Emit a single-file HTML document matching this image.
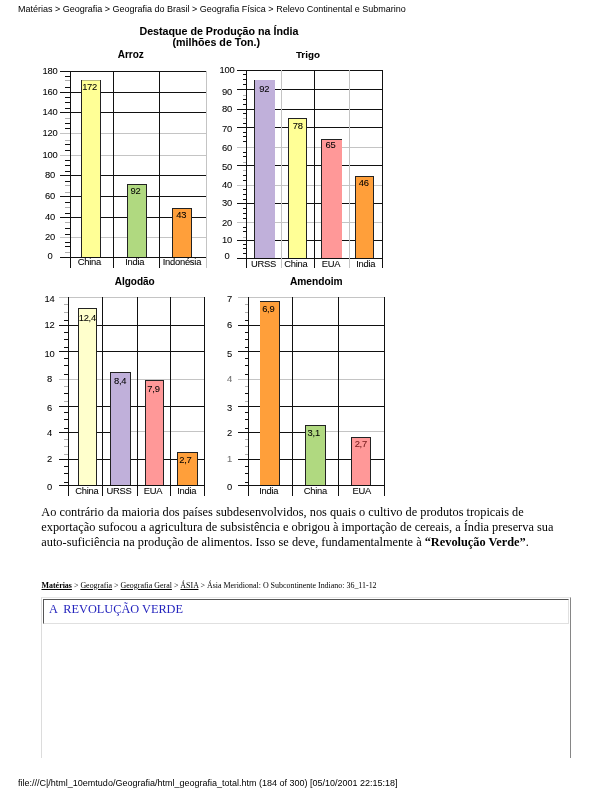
<!DOCTYPE html>
<html><head><meta charset="utf-8">
<style>
html,body{margin:0;padding:0;background:#fff;}
body{width:612px;height:792px;position:relative;overflow:hidden;will-change:transform;font-family:"Liberation Sans",sans-serif;color:#000;}
.a{position:absolute;white-space:nowrap;line-height:1;}
.hdr{font-size:9px;left:18px;top:4.6px;}
.ftr{font-size:9px;left:18px;top:779px;}
.p{position:absolute;left:41.3px;top:505.2px;width:560px;font-family:"Liberation Serif",serif;font-size:12.33px;line-height:15px;white-space:nowrap;}
.bc{font-family:"Liberation Serif",serif;font-size:7.95px;left:41.5px;top:581.7px;}
.box{position:absolute;left:41px;top:597px;width:530px;height:161px;border-left:1px solid #dcdcdc;border-top:1px solid #e6e6e6;border-right:1px solid #868686;box-sizing:border-box;}
.cell{position:absolute;left:1px;top:1px;width:526px;height:25px;border-top:1px solid #555;border-left:1px solid #555;border-right:1px solid #e0e0e0;border-bottom:1px solid #e0e0e0;box-sizing:border-box;}
.cell span{position:absolute;left:5px;top:3.3px;font-family:"Liberation Serif",serif;font-size:12.3px;color:#2424bd;line-height:1;white-space:pre;}
svg{position:absolute;left:0;top:0;}
svg text{font-family:"Liberation Sans",sans-serif;stroke:#000;stroke-width:0.06px;}
</style></head><body>
<div class="a hdr">Matérias &gt; Geografia &gt; Geografia do Brasil &gt; Geografia Física &gt; Relevo Continental e Submarino</div>

<svg width="612" height="500" viewBox="0 0 612 500">
<text x="218.9" y="34.7" font-size="10.68" text-anchor="middle" font-weight="bold" fill="#000">Destaque de Produção na Índia</text>
<text x="216.3" y="46.2" font-size="10.7" text-anchor="middle" font-weight="bold" fill="#000">(milhões de Ton.)</text>
<text x="130.75" y="57.8" font-size="10" text-anchor="middle" font-weight="bold" fill="#000">Arroz</text>
<text x="307.9" y="57.5" font-size="9.8" text-anchor="middle" font-weight="bold" fill="#000">Trigo</text>
<text x="134.7" y="285" font-size="10" text-anchor="middle" font-weight="bold" fill="#000">Algodão</text>
<text x="316.2" y="285" font-size="10.2" text-anchor="middle" font-weight="bold" fill="#000">Amendoim</text>
<rect x="60" y="71" width="147" height="1" fill="#111" shape-rendering="crispEdges"/>
<rect x="60" y="92" width="147" height="1" fill="#111" shape-rendering="crispEdges"/>
<rect x="60" y="112" width="147" height="1" fill="#111" shape-rendering="crispEdges"/>
<rect x="60" y="133" width="147" height="1" fill="#c4c4c4" shape-rendering="crispEdges"/>
<rect x="60" y="155" width="147" height="1" fill="#c4c4c4" shape-rendering="crispEdges"/>
<rect x="60" y="175" width="147" height="1" fill="#111" shape-rendering="crispEdges"/>
<rect x="60" y="196" width="147" height="1" fill="#111" shape-rendering="crispEdges"/>
<rect x="60" y="217" width="147" height="1" fill="#111" shape-rendering="crispEdges"/>
<rect x="60" y="237" width="147" height="1" fill="#c4c4c4" shape-rendering="crispEdges"/>
<rect x="60" y="257" width="147" height="1" fill="#111" shape-rendering="crispEdges"/>
<rect x="65" y="76" width="5" height="1" fill="#111" shape-rendering="crispEdges"/>
<rect x="65" y="80" width="5" height="1" fill="#b0b0b0" shape-rendering="crispEdges"/>
<rect x="65" y="87" width="5" height="1" fill="#111" shape-rendering="crispEdges"/>
<rect x="65" y="97" width="5" height="1" fill="#111" shape-rendering="crispEdges"/>
<rect x="65" y="102" width="5" height="1" fill="#111" shape-rendering="crispEdges"/>
<rect x="65" y="108" width="5" height="1" fill="#111" shape-rendering="crispEdges"/>
<rect x="65" y="118" width="5" height="1" fill="#b0b0b0" shape-rendering="crispEdges"/>
<rect x="65" y="123" width="5" height="1" fill="#111" shape-rendering="crispEdges"/>
<rect x="65" y="128" width="5" height="1" fill="#111" shape-rendering="crispEdges"/>
<rect x="65" y="140" width="5" height="1" fill="#b0b0b0" shape-rendering="crispEdges"/>
<rect x="65" y="144" width="5" height="1" fill="#111" shape-rendering="crispEdges"/>
<rect x="65" y="150" width="5" height="1" fill="#111" shape-rendering="crispEdges"/>
<rect x="65" y="160" width="5" height="1" fill="#111" shape-rendering="crispEdges"/>
<rect x="65" y="165" width="5" height="1" fill="#111" shape-rendering="crispEdges"/>
<rect x="65" y="171" width="5" height="1" fill="#111" shape-rendering="crispEdges"/>
<rect x="65" y="181" width="5" height="1" fill="#111" shape-rendering="crispEdges"/>
<rect x="65" y="185" width="5" height="1" fill="#b0b0b0" shape-rendering="crispEdges"/>
<rect x="65" y="192" width="5" height="1" fill="#b0b0b0" shape-rendering="crispEdges"/>
<rect x="65" y="202" width="5" height="1" fill="#111" shape-rendering="crispEdges"/>
<rect x="65" y="207" width="5" height="1" fill="#b0b0b0" shape-rendering="crispEdges"/>
<rect x="65" y="213" width="5" height="1" fill="#111" shape-rendering="crispEdges"/>
<rect x="65" y="222" width="5" height="1" fill="#b0b0b0" shape-rendering="crispEdges"/>
<rect x="65" y="228" width="5" height="1" fill="#111" shape-rendering="crispEdges"/>
<rect x="65" y="234" width="5" height="1" fill="#111" shape-rendering="crispEdges"/>
<rect x="65" y="242" width="5" height="1" fill="#111" shape-rendering="crispEdges"/>
<rect x="65" y="246" width="5" height="1" fill="#111" shape-rendering="crispEdges"/>
<rect x="65" y="252" width="5" height="1" fill="#b0b0b0" shape-rendering="crispEdges"/>
<rect x="70" y="71" width="1" height="197" fill="#111" shape-rendering="crispEdges"/>
<rect x="113" y="71" width="1" height="197" fill="#111" shape-rendering="crispEdges"/>
<rect x="159" y="71" width="1" height="197" fill="#111" shape-rendering="crispEdges"/>
<rect x="206" y="71" width="1" height="197" fill="#c4c4c4" shape-rendering="crispEdges"/>
<rect x="81" y="80" width="20" height="177" fill="#ffff96" shape-rendering="crispEdges"/>
<rect x="81" y="80" width="1" height="177" fill="#222" shape-rendering="crispEdges"/>
<rect x="100" y="80" width="1" height="177" fill="#222" shape-rendering="crispEdges"/>
<rect x="82" y="80" width="18" height="1" fill="#b9b97c" shape-rendering="crispEdges"/>
<text x="89.6" y="90" font-size="9.4" text-anchor="middle" font-weight="normal" fill="#000" letter-spacing="-0.25">172</text>
<rect x="127" y="184" width="20" height="73" fill="#b0d980" shape-rendering="crispEdges"/>
<rect x="127" y="184" width="1" height="73" fill="#222" shape-rendering="crispEdges"/>
<rect x="146" y="184" width="1" height="73" fill="#222" shape-rendering="crispEdges"/>
<rect x="127" y="184" width="20" height="1" fill="#222" shape-rendering="crispEdges"/>
<text x="135.5" y="193.7" font-size="9.4" text-anchor="middle" font-weight="normal" fill="#000" letter-spacing="-0.25">92</text>
<rect x="172" y="208" width="20" height="49" fill="#ff9f3a" shape-rendering="crispEdges"/>
<rect x="172" y="208" width="1" height="49" fill="#222" shape-rendering="crispEdges"/>
<rect x="191" y="208" width="1" height="49" fill="#222" shape-rendering="crispEdges"/>
<rect x="172" y="208" width="20" height="1" fill="#222" shape-rendering="crispEdges"/>
<text x="181.3" y="217.5" font-size="9.4" text-anchor="middle" font-weight="normal" fill="#000" letter-spacing="-0.25">43</text>
<text x="50" y="73.9" font-size="9.4" text-anchor="middle" font-weight="normal" fill="#000" letter-spacing="-0.25">180</text>
<text x="50" y="94.9" font-size="9.4" text-anchor="middle" font-weight="normal" fill="#000" letter-spacing="-0.25">160</text>
<text x="50" y="114.9" font-size="9.4" text-anchor="middle" font-weight="normal" fill="#000" letter-spacing="-0.25">140</text>
<text x="50" y="135.9" font-size="9.4" text-anchor="middle" font-weight="normal" fill="#000" letter-spacing="-0.25">120</text>
<text x="50" y="157.9" font-size="9.4" text-anchor="middle" font-weight="normal" fill="#000" letter-spacing="-0.25">100</text>
<text x="50" y="177.9" font-size="9.4" text-anchor="middle" font-weight="normal" fill="#000" letter-spacing="-0.25">80</text>
<text x="50" y="198.9" font-size="9.4" text-anchor="middle" font-weight="normal" fill="#000" letter-spacing="-0.25">60</text>
<text x="50" y="219.9" font-size="9.4" text-anchor="middle" font-weight="normal" fill="#000" letter-spacing="-0.25">40</text>
<text x="50" y="239.9" font-size="9.4" text-anchor="middle" font-weight="normal" fill="#000" letter-spacing="-0.25">20</text>
<text x="50" y="258.8" font-size="9.4" text-anchor="middle" font-weight="normal" fill="#000" letter-spacing="-0.25">0</text>
<text x="89.4" y="265.3" font-size="9.4" text-anchor="middle" font-weight="normal" fill="#000" letter-spacing="-0.25">China</text>
<text x="134.8" y="265.3" font-size="9.4" text-anchor="middle" font-weight="normal" fill="#000" letter-spacing="-0.25">India</text>
<text x="181.9" y="265.3" font-size="9.4" text-anchor="middle" font-weight="normal" fill="#000" letter-spacing="-0.25">Indonésia</text>
<rect x="237" y="70" width="146" height="1" fill="#111" shape-rendering="crispEdges"/>
<rect x="237" y="89" width="146" height="1" fill="#111" shape-rendering="crispEdges"/>
<rect x="237" y="109" width="146" height="1" fill="#111" shape-rendering="crispEdges"/>
<rect x="237" y="127" width="146" height="1" fill="#111" shape-rendering="crispEdges"/>
<rect x="237" y="147" width="146" height="1" fill="#c4c4c4" shape-rendering="crispEdges"/>
<rect x="237" y="165" width="146" height="1" fill="#111" shape-rendering="crispEdges"/>
<rect x="237" y="185" width="146" height="1" fill="#c4c4c4" shape-rendering="crispEdges"/>
<rect x="237" y="203" width="146" height="1" fill="#111" shape-rendering="crispEdges"/>
<rect x="237" y="222" width="146" height="1" fill="#c4c4c4" shape-rendering="crispEdges"/>
<rect x="237" y="240" width="146" height="1" fill="#111" shape-rendering="crispEdges"/>
<rect x="237" y="258" width="146" height="1" fill="#111" shape-rendering="crispEdges"/>
<rect x="243" y="74" width="3" height="1" fill="#111" shape-rendering="crispEdges"/>
<rect x="243" y="79" width="3" height="1" fill="#111" shape-rendering="crispEdges"/>
<rect x="243" y="84" width="3" height="1" fill="#111" shape-rendering="crispEdges"/>
<rect x="243" y="95" width="3" height="1" fill="#b0b0b0" shape-rendering="crispEdges"/>
<rect x="243" y="99" width="3" height="1" fill="#111" shape-rendering="crispEdges"/>
<rect x="243" y="104" width="3" height="1" fill="#111" shape-rendering="crispEdges"/>
<rect x="243" y="113" width="3" height="1" fill="#111" shape-rendering="crispEdges"/>
<rect x="243" y="118" width="3" height="1" fill="#b0b0b0" shape-rendering="crispEdges"/>
<rect x="243" y="123" width="3" height="1" fill="#111" shape-rendering="crispEdges"/>
<rect x="243" y="132" width="3" height="1" fill="#111" shape-rendering="crispEdges"/>
<rect x="243" y="136" width="3" height="1" fill="#111" shape-rendering="crispEdges"/>
<rect x="243" y="141" width="3" height="1" fill="#111" shape-rendering="crispEdges"/>
<rect x="243" y="152" width="3" height="1" fill="#111" shape-rendering="crispEdges"/>
<rect x="243" y="156" width="3" height="1" fill="#111" shape-rendering="crispEdges"/>
<rect x="243" y="162" width="3" height="1" fill="#b0b0b0" shape-rendering="crispEdges"/>
<rect x="243" y="170" width="3" height="1" fill="#b0b0b0" shape-rendering="crispEdges"/>
<rect x="243" y="175" width="3" height="1" fill="#111" shape-rendering="crispEdges"/>
<rect x="243" y="180" width="3" height="1" fill="#111" shape-rendering="crispEdges"/>
<rect x="243" y="189" width="3" height="1" fill="#111" shape-rendering="crispEdges"/>
<rect x="243" y="194" width="3" height="1" fill="#111" shape-rendering="crispEdges"/>
<rect x="243" y="199" width="3" height="1" fill="#111" shape-rendering="crispEdges"/>
<rect x="243" y="208" width="3" height="1" fill="#111" shape-rendering="crispEdges"/>
<rect x="243" y="213" width="3" height="1" fill="#111" shape-rendering="crispEdges"/>
<rect x="243" y="218" width="3" height="1" fill="#111" shape-rendering="crispEdges"/>
<rect x="243" y="227" width="3" height="1" fill="#111" shape-rendering="crispEdges"/>
<rect x="243" y="231" width="3" height="1" fill="#111" shape-rendering="crispEdges"/>
<rect x="243" y="237" width="3" height="1" fill="#b0b0b0" shape-rendering="crispEdges"/>
<rect x="243" y="244" width="3" height="1" fill="#111" shape-rendering="crispEdges"/>
<rect x="243" y="248" width="3" height="1" fill="#111" shape-rendering="crispEdges"/>
<rect x="243" y="253" width="3" height="1" fill="#111" shape-rendering="crispEdges"/>
<rect x="246" y="70" width="1" height="198" fill="#111" shape-rendering="crispEdges"/>
<rect x="281" y="70" width="1" height="198" fill="#c4c4c4" shape-rendering="crispEdges"/>
<rect x="314" y="70" width="1" height="198" fill="#111" shape-rendering="crispEdges"/>
<rect x="349" y="70" width="1" height="198" fill="#c4c4c4" shape-rendering="crispEdges"/>
<rect x="382" y="70" width="1" height="198" fill="#111" shape-rendering="crispEdges"/>
<rect x="254" y="80" width="21" height="178" fill="#c0b0da" shape-rendering="crispEdges"/>
<rect x="254" y="80" width="1" height="178" fill="#222" shape-rendering="crispEdges"/>
<text x="264.2" y="91.7" font-size="9.4" text-anchor="middle" font-weight="normal" fill="#000" letter-spacing="-0.25">92</text>
<rect x="288" y="118" width="19" height="140" fill="#ffff96" shape-rendering="crispEdges"/>
<rect x="288" y="118" width="1" height="140" fill="#222" shape-rendering="crispEdges"/>
<rect x="306" y="118" width="1" height="140" fill="#222" shape-rendering="crispEdges"/>
<rect x="288" y="118" width="19" height="1" fill="#222" shape-rendering="crispEdges"/>
<text x="297.7" y="128.8" font-size="9.4" text-anchor="middle" font-weight="normal" fill="#000" letter-spacing="-0.25">78</text>
<rect x="321" y="139" width="21" height="119" fill="#ff9898" shape-rendering="crispEdges"/>
<rect x="321" y="139" width="1" height="119" fill="#222" shape-rendering="crispEdges"/>
<rect x="321" y="139" width="21" height="1" fill="#222" shape-rendering="crispEdges"/>
<text x="330.4" y="147.5" font-size="9.4" text-anchor="middle" font-weight="normal" fill="#000" letter-spacing="-0.25">65</text>
<rect x="355" y="176" width="19" height="82" fill="#ff9f3a" shape-rendering="crispEdges"/>
<rect x="355" y="176" width="1" height="82" fill="#222" shape-rendering="crispEdges"/>
<rect x="373" y="176" width="1" height="82" fill="#222" shape-rendering="crispEdges"/>
<rect x="355" y="176" width="19" height="1" fill="#222" shape-rendering="crispEdges"/>
<text x="363.8" y="185.8" font-size="9.4" text-anchor="middle" font-weight="normal" fill="#000" letter-spacing="-0.25">46</text>
<text x="227" y="73.4" font-size="9.4" text-anchor="middle" font-weight="normal" fill="#000" letter-spacing="-0.25">100</text>
<text x="227" y="95.4" font-size="9.4" text-anchor="middle" font-weight="normal" fill="#000" letter-spacing="-0.25">90</text>
<text x="227" y="112.1" font-size="9.4" text-anchor="middle" font-weight="normal" fill="#000" letter-spacing="-0.25">80</text>
<text x="227" y="132.0" font-size="9.4" text-anchor="middle" font-weight="normal" fill="#000" letter-spacing="-0.25">70</text>
<text x="227" y="150.9" font-size="9.4" text-anchor="middle" font-weight="normal" fill="#000" letter-spacing="-0.25">60</text>
<text x="227" y="170.0" font-size="9.4" text-anchor="middle" font-weight="normal" fill="#000" letter-spacing="-0.25">50</text>
<text x="227" y="188.2" font-size="9.4" text-anchor="middle" font-weight="normal" fill="#000" letter-spacing="-0.25">40</text>
<text x="227" y="206.4" font-size="9.4" text-anchor="middle" font-weight="normal" fill="#000" letter-spacing="-0.25">30</text>
<text x="227" y="226.2" font-size="9.4" text-anchor="middle" font-weight="normal" fill="#000" letter-spacing="-0.25">20</text>
<text x="227" y="243.2" font-size="9.4" text-anchor="middle" font-weight="normal" fill="#000" letter-spacing="-0.25">10</text>
<text x="227" y="258.5" font-size="9.4" text-anchor="middle" font-weight="normal" fill="#000" letter-spacing="-0.25">0</text>
<text x="263.6" y="266.7" font-size="9.4" text-anchor="middle" font-weight="normal" fill="#000" letter-spacing="-0.25">URSS</text>
<text x="295.8" y="266.7" font-size="9.4" text-anchor="middle" font-weight="normal" fill="#000" letter-spacing="-0.25">China</text>
<text x="331" y="266.7" font-size="9.4" text-anchor="middle" font-weight="normal" fill="#000" letter-spacing="-0.25">EUA</text>
<text x="365.8" y="266.7" font-size="9.4" text-anchor="middle" font-weight="normal" fill="#000" letter-spacing="-0.25">India</text>
<rect x="59" y="297" width="146" height="1" fill="#c4c4c4" shape-rendering="crispEdges"/>
<rect x="59" y="325" width="146" height="1" fill="#111" shape-rendering="crispEdges"/>
<rect x="59" y="351" width="146" height="1" fill="#111" shape-rendering="crispEdges"/>
<rect x="59" y="379" width="146" height="1" fill="#c4c4c4" shape-rendering="crispEdges"/>
<rect x="59" y="406" width="146" height="1" fill="#111" shape-rendering="crispEdges"/>
<rect x="59" y="432" width="72" height="1" fill="#111" shape-rendering="crispEdges"/>
<rect x="131" y="431" width="74" height="1" fill="#c4c4c4" shape-rendering="crispEdges"/>
<rect x="59" y="459" width="146" height="1" fill="#111" shape-rendering="crispEdges"/>
<rect x="59" y="485" width="146" height="1" fill="#111" shape-rendering="crispEdges"/>
<rect x="64" y="304" width="4" height="1" fill="#b0b0b0" shape-rendering="crispEdges"/>
<rect x="64" y="312" width="4" height="1" fill="#b0b0b0" shape-rendering="crispEdges"/>
<rect x="64" y="320" width="4" height="1" fill="#111" shape-rendering="crispEdges"/>
<rect x="64" y="332" width="4" height="1" fill="#111" shape-rendering="crispEdges"/>
<rect x="64" y="339" width="4" height="1" fill="#111" shape-rendering="crispEdges"/>
<rect x="64" y="347" width="4" height="1" fill="#111" shape-rendering="crispEdges"/>
<rect x="64" y="358" width="4" height="1" fill="#111" shape-rendering="crispEdges"/>
<rect x="64" y="365" width="4" height="1" fill="#111" shape-rendering="crispEdges"/>
<rect x="64" y="374" width="4" height="1" fill="#111" shape-rendering="crispEdges"/>
<rect x="64" y="386" width="4" height="1" fill="#b0b0b0" shape-rendering="crispEdges"/>
<rect x="64" y="393" width="4" height="1" fill="#111" shape-rendering="crispEdges"/>
<rect x="64" y="401" width="4" height="1" fill="#b0b0b0" shape-rendering="crispEdges"/>
<rect x="64" y="412" width="4" height="1" fill="#111" shape-rendering="crispEdges"/>
<rect x="64" y="419" width="4" height="1" fill="#111" shape-rendering="crispEdges"/>
<rect x="64" y="428" width="4" height="1" fill="#111" shape-rendering="crispEdges"/>
<rect x="64" y="439" width="4" height="1" fill="#b0b0b0" shape-rendering="crispEdges"/>
<rect x="64" y="446" width="4" height="1" fill="#b0b0b0" shape-rendering="crispEdges"/>
<rect x="64" y="454" width="4" height="1" fill="#b0b0b0" shape-rendering="crispEdges"/>
<rect x="64" y="466" width="4" height="1" fill="#111" shape-rendering="crispEdges"/>
<rect x="64" y="473" width="4" height="1" fill="#111" shape-rendering="crispEdges"/>
<rect x="64" y="482" width="4" height="1" fill="#111" shape-rendering="crispEdges"/>
<rect x="68" y="297" width="1" height="199" fill="#111" shape-rendering="crispEdges"/>
<rect x="102" y="297" width="1" height="199" fill="#111" shape-rendering="crispEdges"/>
<rect x="137" y="297" width="1" height="199" fill="#111" shape-rendering="crispEdges"/>
<rect x="170" y="297" width="1" height="199" fill="#111" shape-rendering="crispEdges"/>
<rect x="204" y="297" width="1" height="199" fill="#111" shape-rendering="crispEdges"/>
<rect x="78" y="308" width="19" height="177" fill="#ffffcc" shape-rendering="crispEdges"/>
<rect x="78" y="308" width="1" height="177" fill="#222" shape-rendering="crispEdges"/>
<rect x="96" y="308" width="1" height="177" fill="#222" shape-rendering="crispEdges"/>
<rect x="78" y="308" width="19" height="1" fill="#222" shape-rendering="crispEdges"/>
<text x="87.3" y="320.8" font-size="9.4" text-anchor="middle" font-weight="normal" fill="#000" letter-spacing="-0.25">12,4</text>
<rect x="110" y="372" width="21" height="113" fill="#c0b0da" shape-rendering="crispEdges"/>
<rect x="110" y="372" width="1" height="113" fill="#222" shape-rendering="crispEdges"/>
<rect x="130" y="372" width="1" height="113" fill="#222" shape-rendering="crispEdges"/>
<rect x="110" y="372" width="21" height="1" fill="#222" shape-rendering="crispEdges"/>
<text x="120.2" y="383.8" font-size="9.4" text-anchor="middle" font-weight="normal" fill="#000" letter-spacing="-0.25">8,4</text>
<rect x="145" y="380" width="19" height="105" fill="#ff9898" shape-rendering="crispEdges"/>
<rect x="145" y="380" width="1" height="105" fill="#222" shape-rendering="crispEdges"/>
<rect x="163" y="380" width="1" height="105" fill="#222" shape-rendering="crispEdges"/>
<rect x="145" y="380" width="19" height="1" fill="#222" shape-rendering="crispEdges"/>
<text x="153.5" y="391.7" font-size="9.4" text-anchor="middle" font-weight="normal" fill="#000" letter-spacing="-0.25">7,9</text>
<rect x="177" y="452" width="21" height="33" fill="#ff9f3a" shape-rendering="crispEdges"/>
<rect x="177" y="452" width="1" height="33" fill="#222" shape-rendering="crispEdges"/>
<rect x="197" y="452" width="1" height="33" fill="#222" shape-rendering="crispEdges"/>
<rect x="177" y="452" width="21" height="1" fill="#222" shape-rendering="crispEdges"/>
<text x="185.4" y="462.5" font-size="9.4" text-anchor="middle" font-weight="normal" fill="#000" letter-spacing="-0.25">2,7</text>
<text x="49.5" y="301.7" font-size="9.4" text-anchor="middle" font-weight="normal" fill="#000" letter-spacing="-0.25">14</text>
<text x="49.5" y="328.2" font-size="9.4" text-anchor="middle" font-weight="normal" fill="#000" letter-spacing="-0.25">12</text>
<text x="49.5" y="356.7" font-size="9.4" text-anchor="middle" font-weight="normal" fill="#000" letter-spacing="-0.25">10</text>
<text x="49.5" y="382.1" font-size="9.4" text-anchor="middle" font-weight="normal" fill="#000" letter-spacing="-0.25">8</text>
<text x="49.5" y="411.0" font-size="9.4" text-anchor="middle" font-weight="normal" fill="#000" letter-spacing="-0.25">6</text>
<text x="49.5" y="436.0" font-size="9.4" text-anchor="middle" font-weight="normal" fill="#000" letter-spacing="-0.25">4</text>
<text x="49.5" y="461.7" font-size="9.4" text-anchor="middle" font-weight="normal" fill="#000" letter-spacing="-0.25">2</text>
<text x="49.5" y="489.9" font-size="9.4" text-anchor="middle" font-weight="normal" fill="#000" letter-spacing="-0.25">0</text>
<text x="86.9" y="493.7" font-size="9.4" text-anchor="middle" font-weight="normal" fill="#000" letter-spacing="-0.25">China</text>
<text x="119" y="493.7" font-size="9.4" text-anchor="middle" font-weight="normal" fill="#000" letter-spacing="-0.25">URSS</text>
<text x="152.9" y="493.7" font-size="9.4" text-anchor="middle" font-weight="normal" fill="#000" letter-spacing="-0.25">EUA</text>
<text x="186.8" y="493.7" font-size="9.4" text-anchor="middle" font-weight="normal" fill="#000" letter-spacing="-0.25">India</text>
<rect x="238" y="297" width="147" height="1" fill="#c4c4c4" shape-rendering="crispEdges"/>
<rect x="238" y="325" width="147" height="1" fill="#111" shape-rendering="crispEdges"/>
<rect x="238" y="351" width="147" height="1" fill="#111" shape-rendering="crispEdges"/>
<rect x="238" y="379" width="147" height="1" fill="#c4c4c4" shape-rendering="crispEdges"/>
<rect x="238" y="406" width="147" height="1" fill="#111" shape-rendering="crispEdges"/>
<rect x="238" y="432" width="88" height="1" fill="#111" shape-rendering="crispEdges"/>
<rect x="326" y="431" width="59" height="1" fill="#c4c4c4" shape-rendering="crispEdges"/>
<rect x="238" y="459" width="147" height="1" fill="#111" shape-rendering="crispEdges"/>
<rect x="238" y="485" width="147" height="1" fill="#111" shape-rendering="crispEdges"/>
<rect x="245" y="304" width="3" height="1" fill="#b0b0b0" shape-rendering="crispEdges"/>
<rect x="245" y="312" width="3" height="1" fill="#b0b0b0" shape-rendering="crispEdges"/>
<rect x="245" y="320" width="3" height="1" fill="#111" shape-rendering="crispEdges"/>
<rect x="245" y="332" width="3" height="1" fill="#111" shape-rendering="crispEdges"/>
<rect x="245" y="339" width="3" height="1" fill="#111" shape-rendering="crispEdges"/>
<rect x="245" y="347" width="3" height="1" fill="#111" shape-rendering="crispEdges"/>
<rect x="245" y="358" width="3" height="1" fill="#111" shape-rendering="crispEdges"/>
<rect x="245" y="365" width="3" height="1" fill="#111" shape-rendering="crispEdges"/>
<rect x="245" y="374" width="3" height="1" fill="#111" shape-rendering="crispEdges"/>
<rect x="245" y="386" width="3" height="1" fill="#b0b0b0" shape-rendering="crispEdges"/>
<rect x="245" y="393" width="3" height="1" fill="#111" shape-rendering="crispEdges"/>
<rect x="245" y="401" width="3" height="1" fill="#b0b0b0" shape-rendering="crispEdges"/>
<rect x="245" y="412" width="3" height="1" fill="#111" shape-rendering="crispEdges"/>
<rect x="245" y="419" width="3" height="1" fill="#111" shape-rendering="crispEdges"/>
<rect x="245" y="428" width="3" height="1" fill="#111" shape-rendering="crispEdges"/>
<rect x="245" y="439" width="3" height="1" fill="#b0b0b0" shape-rendering="crispEdges"/>
<rect x="245" y="446" width="3" height="1" fill="#b0b0b0" shape-rendering="crispEdges"/>
<rect x="245" y="454" width="3" height="1" fill="#b0b0b0" shape-rendering="crispEdges"/>
<rect x="245" y="466" width="3" height="1" fill="#111" shape-rendering="crispEdges"/>
<rect x="245" y="473" width="3" height="1" fill="#111" shape-rendering="crispEdges"/>
<rect x="245" y="482" width="3" height="1" fill="#111" shape-rendering="crispEdges"/>
<rect x="248" y="297" width="1" height="199" fill="#111" shape-rendering="crispEdges"/>
<rect x="292" y="297" width="1" height="199" fill="#111" shape-rendering="crispEdges"/>
<rect x="338" y="297" width="1" height="199" fill="#111" shape-rendering="crispEdges"/>
<rect x="384" y="297" width="1" height="199" fill="#111" shape-rendering="crispEdges"/>
<rect x="260" y="301" width="20" height="184" fill="#ff9f3a" shape-rendering="crispEdges"/>
<rect x="279" y="301" width="1" height="184" fill="#222" shape-rendering="crispEdges"/>
<rect x="260" y="301" width="20" height="1" fill="#222" shape-rendering="crispEdges"/>
<text x="268.3" y="311.7" font-size="9.4" text-anchor="middle" font-weight="normal" fill="#000" letter-spacing="-0.25">6,9</text>
<rect x="305" y="425" width="21" height="60" fill="#b0d980" shape-rendering="crispEdges"/>
<rect x="305" y="425" width="1" height="60" fill="#222" shape-rendering="crispEdges"/>
<rect x="325" y="425" width="1" height="60" fill="#222" shape-rendering="crispEdges"/>
<rect x="305" y="425" width="21" height="1" fill="#222" shape-rendering="crispEdges"/>
<text x="313.75" y="435.8" font-size="9.4" text-anchor="middle" font-weight="normal" fill="#000" letter-spacing="-0.25">3,1</text>
<rect x="351" y="437" width="20" height="48" fill="#ff9898" shape-rendering="crispEdges"/>
<rect x="351" y="437" width="1" height="48" fill="#222" shape-rendering="crispEdges"/>
<rect x="370" y="437" width="1" height="48" fill="#222" shape-rendering="crispEdges"/>
<rect x="351" y="437" width="20" height="1" fill="#222" shape-rendering="crispEdges"/>
<text x="360.8" y="446.7" font-size="9.4" text-anchor="middle" font-weight="normal" fill="#7a1a1a" letter-spacing="-0.25">2,7</text>
<text x="229.5" y="301.7" font-size="9.4" text-anchor="middle" font-weight="normal" fill="#000" letter-spacing="-0.25">7</text>
<text x="229.5" y="328.2" font-size="9.4" text-anchor="middle" font-weight="normal" fill="#000" letter-spacing="-0.25">6</text>
<text x="229.5" y="356.7" font-size="9.4" text-anchor="middle" font-weight="normal" fill="#000" letter-spacing="-0.25">5</text>
<text x="229.5" y="382.1" font-size="9.4" text-anchor="middle" font-weight="normal" fill="#777" letter-spacing="-0.25">4</text>
<text x="229.5" y="411.0" font-size="9.4" text-anchor="middle" font-weight="normal" fill="#000" letter-spacing="-0.25">3</text>
<text x="229.5" y="436.0" font-size="9.4" text-anchor="middle" font-weight="normal" fill="#000" letter-spacing="-0.25">2</text>
<text x="229.5" y="461.7" font-size="9.4" text-anchor="middle" font-weight="normal" fill="#777" letter-spacing="-0.25">1</text>
<text x="229.5" y="489.9" font-size="9.4" text-anchor="middle" font-weight="normal" fill="#000" letter-spacing="-0.25">0</text>
<text x="268.75" y="493.7" font-size="9.4" text-anchor="middle" font-weight="normal" fill="#000" letter-spacing="-0.25">India</text>
<text x="315.3" y="493.7" font-size="9.4" text-anchor="middle" font-weight="normal" fill="#000" letter-spacing="-0.25">China</text>
<text x="361.7" y="493.7" font-size="9.4" text-anchor="middle" font-weight="normal" fill="#000" letter-spacing="-0.25">EUA</text>
</svg>

<div class="p">Ao contrário da maioria dos países subdesenvolvidos, nos quais o cultivo de produtos tropicais de<br>exportação sufocou a agricultura de subsistência e obrigou à importação de cereais, a Índia preserva sua<br>auto-suficiência na produção de alimentos. Isso se deve, fundamentalmente à <b>“Revolução Verde”</b>.</div>
<div class="a bc"><b><u>Matérias</u></b> &gt; <u>Geografia</u> &gt; <u>Geografia Geral</u> &gt; <u>ÁSIA</u> &gt; Ásia Meridional: O Subcontinente Indiano: 36_11-12</div>
<div class="box"><div class="cell"><span>A  REVOLUÇÃO VERDE</span></div></div>
<div class="a ftr">file:///C|/html_10emtudo/Geografia/html_geografia_total.htm (184 of 300) [05/10/2001 22:15:18]</div>
</body></html>
